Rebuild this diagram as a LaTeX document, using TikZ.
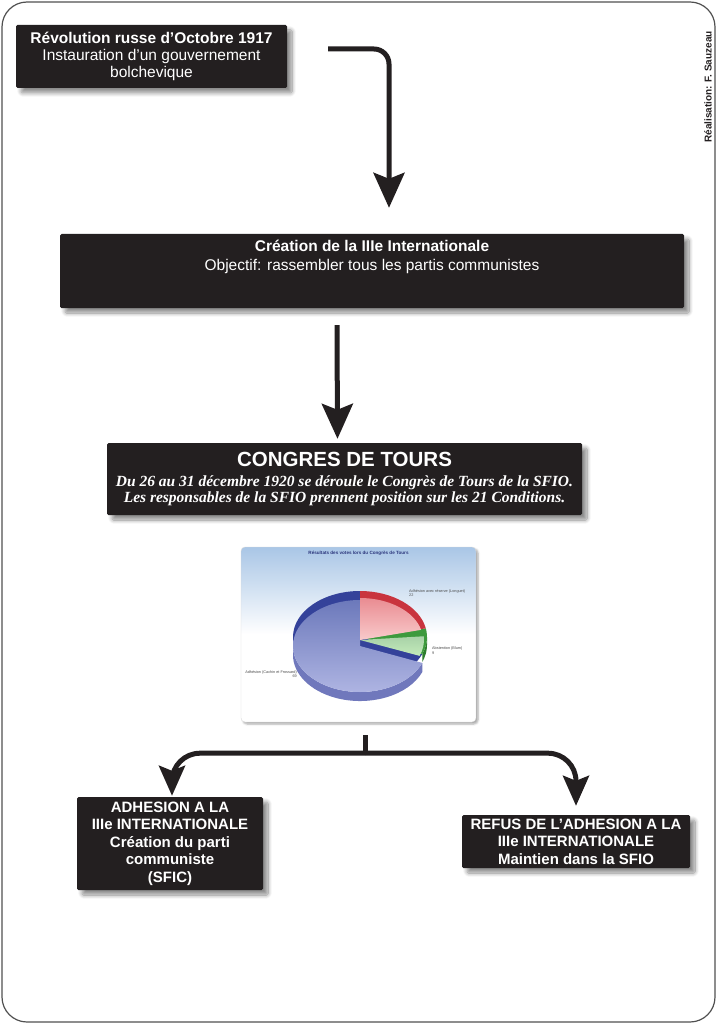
\documentclass[tikz,border=0pt]{standalone}
\usepackage{fontspec}
\setmainfont{Liberation Sans}
\newfontfamily\serifbi{Liberation Serif}
\usetikzlibrary{arrows.meta,shadows.blur}

\definecolor{boxblack}{HTML}{231F20}
\definecolor{framegray}{HTML}{505050}
\definecolor{chartsky}{HTML}{A9C6E6}
\definecolor{navy}{HTML}{34429A}
\definecolor{bluewall}{HTML}{7078BC}
\definecolor{bluetop}{HTML}{6C79BB}
\definecolor{bluelow}{HTML}{AEB4E2}
\definecolor{reddark}{HTML}{C9343E}
\definecolor{redtop}{HTML}{E98C92}
\definecolor{redlow}{HTML}{F9CACB}
\definecolor{greendark}{HTML}{3D9A3D}
\definecolor{greenwall}{HTML}{2E7D2E}
\definecolor{greenlow}{HTML}{C4EBBA}

\begin{document}
\begin{tikzpicture}[x=1pt,y=-1pt,
    darkbox/.style={fill=boxblack, rounded corners=1.5pt, text=white, align=center, inner sep=0pt,
      blur shadow={shadow xshift=5pt, shadow yshift=-5pt, shadow blur radius=4pt, shadow blur steps=10, shadow opacity=45}},
    boxtext/.style={text=white, align=center, inner sep=0pt},
    flow/.style={draw=boxblack, line width=5pt, -{Stealth[length=35pt,width=31pt,inset=6pt]}},
    split/.style={draw=boxblack, line width=5pt, -{Stealth[length=30pt,width=26pt,inset=5pt]}, rounded corners=28pt},
    pielabel/.style={inner sep=0pt, align=left, text=black!70, font=\fontsize{3.8}{4.4}\selectfont},
    every node/.style={font=\fontsize{15.5}{17}\selectfont}]

  \useasboundingbox (0,0) rectangle (717,1024);
  \draw[framegray, line width=1.2pt, rounded corners=25pt] (2,2) rectangle (715,1022);

  \node[rotate=90, text=boxblack, font=\fontsize{10}{12}\selectfont\bfseries] (credit) at (708,87) {Réalisation: F. Sauzeau};

  \node[darkbox, minimum width=271pt, minimum height=63pt] (revo) at (151.5,56.5)
    {\textbf{Révolution russe d’Octobre 1917}\\Instauration d’un gouvernement\\bolchevique};

  \node[darkbox, minimum width=624pt, minimum height=74pt] (inter) at (372,271) {};
  \node[boxtext, anchor=north, font=\fontsize{15.5}{19}\selectfont] (inter-text) at ([yshift=-6pt]inter.north)
    {\textbf{Création de la IIIe Internationale}\\Objectif: rassembler tous les partis communistes};

  \node[darkbox, minimum width=475pt, minimum height=72pt, font=\fontsize{15.5}{16}\selectfont] (congres) at (344.5,479)
    {{\fontsize{20.5}{21}\selectfont\bfseries CONGRES DE TOURS}\\[4pt]
     {\serifbi\bfseries\itshape Du 26 au 31 décembre 1920 se déroule le Congrès de Tours de la SFIO.}\\
     {\serifbi\bfseries\itshape Les responsables de la SFIO prennent position sur les 21 Conditions.}};

  \node[draw=black!15, rounded corners=4pt, minimum width=235pt, minimum height=175pt,
    top color=chartsky, bottom color=white, middle color=white,
    blur shadow={shadow xshift=2pt, shadow yshift=-2pt, shadow blur radius=2pt, shadow opacity=35}] (chart) at (358.5,634.5) {};
  \begin{scope}[shift={(360,637)}, y=1pt]
    \fill[navy] (0,0) -- (90:67 and 46) arc[start angle=90, end angle=338.4, x radius=67, y radius=46] -- cycle;
    \fill[bluewall] (-67,-9) arc[start angle=180, end angle=338.4, x radius=67, y radius=46] -- ++(0,-9)
      arc[start angle=338.4, end angle=180, x radius=67, y radius=46] -- cycle;
    \shade[top color=bluetop, bottom color=bluelow] (0,-9) -- ++(90:67 and 46)
      arc[start angle=90, end angle=338.4, x radius=67, y radius=46] -- cycle;
    \fill[greenwall] (67,0) arc[start angle=0, end angle=-21.6, x radius=67, y radius=46] -- ++(0,-8)
      arc[start angle=-21.6, end angle=0, x radius=67, y radius=46] -- cycle;
    \fill[greendark] (0,0) -- (-21.6:67 and 46) arc[start angle=-21.6, end angle=10.8, x radius=67, y radius=46] -- cycle;
    \shade[top color=greendark!45, bottom color=greenlow] (0,-3) -- ++(-21.6:64 and 43)
      arc[start angle=-21.6, end angle=5, x radius=64, y radius=43] -- cycle;
    \fill[reddark] (0,0) -- (10.8:67 and 46) arc[start angle=10.8, end angle=90, x radius=67, y radius=46] -- cycle;
    \shade[top color=redtop, bottom color=redlow] (0,-3) -- ++(14:63 and 42)
      arc[start angle=14, end angle=90, x radius=63, y radius=42] -- cycle;
  \end{scope}
  \node[inner sep=0pt, text=navy!80!black, font=\fontsize{4.6}{5}\selectfont\bfseries] (chart-title) at (358.5,553)
    {Résultats des votes lors du Congrès de Tours};
  \node[pielabel, anchor=north west] (lab-longuet) at (409,589) {Adhésion avec réserve (Longuet)\\22};
  \node[pielabel, anchor=north west] (lab-blum) at (432,647) {Abstention (Blum)\\9};
  \node[pielabel, anchor=north east, align=right] (lab-cachin) at (297,670) {Adhésion (Cachin et Frossard)\\69};

  \node[darkbox, minimum width=186pt, minimum height=93pt, font=\fontsize{15}{17.5}\selectfont\bfseries] (adhesion) at (170,843.5)
    {ADHESION A LA\\IIIe INTERNATIONALE\\Création du parti\\communiste\\(SFIC)};
  \node[darkbox, minimum width=228pt, minimum height=53pt, font=\fontsize{15}{17.5}\selectfont\bfseries] (refus) at (576,841.5)
    {REFUS DE L’ADHESION A LA\\IIIe INTERNATIONALE\\Maintien dans la SFIO};

  \coordinate (revo-out) at (328,49);
  \draw[flow, rounded corners=15pt] (revo-out) -| ([xshift=17pt,yshift=26pt]inter.north);
  \draw[flow] ([xshift=-35pt,yshift=-17pt]inter.south) -- ([xshift=-7pt,yshift=4pt]congres.north);

  \coordinate (fork) at ([xshift=6.5pt,yshift=-13pt]chart.south);
  \coordinate (join) at ([yshift=-18pt]fork);
  \draw[draw=boxblack, line width=5pt] (fork) -- (join);
  \draw[split] (join) -| ([xshift=2pt,yshift=1pt]adhesion.north);
  \draw[split] (join) -| ([yshift=9pt]refus.north);
\end{tikzpicture}
\end{document}
